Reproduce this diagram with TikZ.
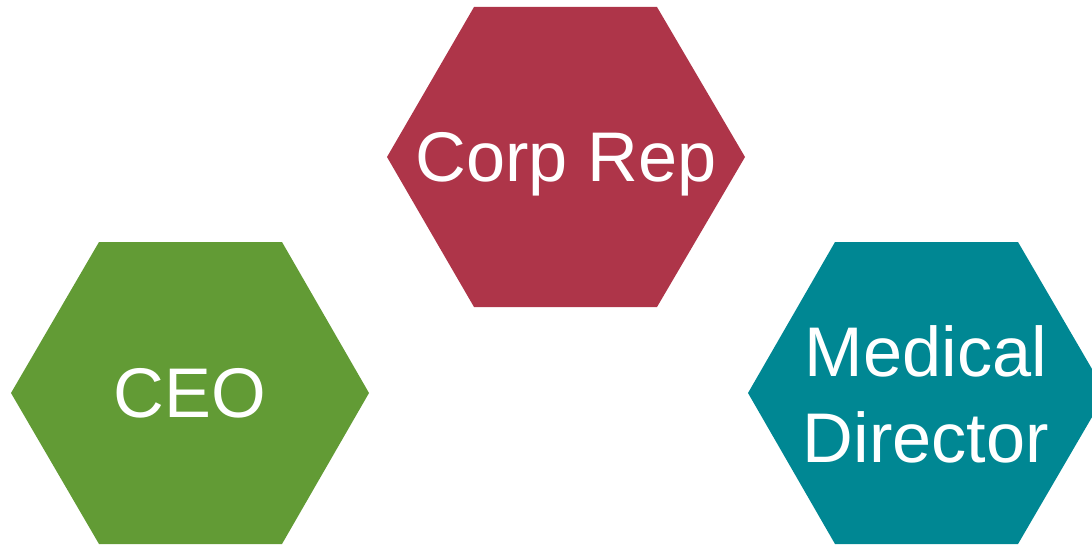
\documentclass[tikz,border=0pt]{standalone}
\usepackage{fontspec}
\setmainfont{Liberation Sans}
\usepackage{tikz}
\usetikzlibrary{positioning}
\definecolor{corpred}{RGB}{174, 53, 73}
\definecolor{ceogreen}{RGB}{98, 155, 53}
\definecolor{medteal}{RGB}{0, 135, 147}

\begin{document}
\begin{tikzpicture}[every node/.style={text=white, align=center, font=\fontsize{20}{24.5}\selectfont}]
\useasboundingbox (0,0) rectangle (10.92,5.45);
\clip (0,0) rectangle (10.92,5.45);

% Top hexagon
\fill[corpred] (4.74,5.38) -- (6.57,5.38) -- (7.45,3.88) -- (6.57,2.38) -- (4.74,2.38) -- (3.87,3.88) -- cycle;
\node (corp) at (5.66,3.81) {Corp Rep};

% Left hexagon
\fill[ceogreen] (0.99,3.03) -- (2.82,3.03) -- (3.69,1.52) -- (2.82,0.01) -- (0.99,0.01) -- (0.11,1.52) -- cycle;
\node (ceo) at (1.90,1.52) {CEO};

% Right hexagon
\fill[medteal] (8.35,3.03) -- (10.18,3.03) -- (11.06,1.52) -- (10.18,0.01) -- (8.35,0.01) -- (7.48,1.52) -- cycle;
\node (med) at (9.26,1.51) {Medical\\Director};
\end{tikzpicture}
\end{document}
